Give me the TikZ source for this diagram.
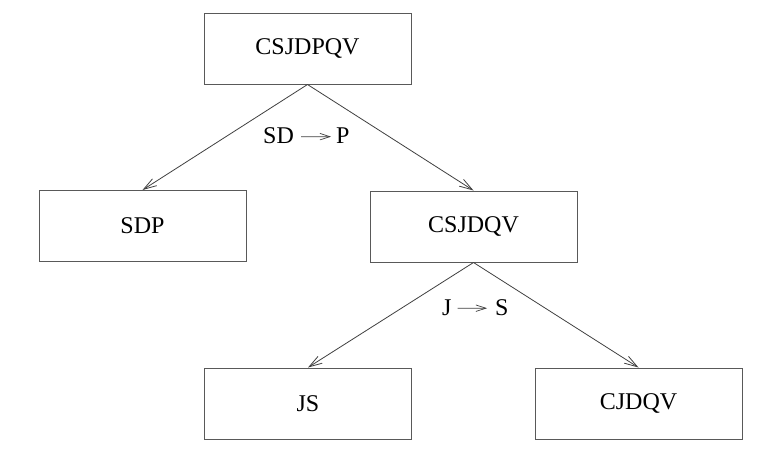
\documentclass[tikz,border=0pt]{standalone}
\usepackage{fontspec}
\setmainfont{Liberation Serif}
\newfontfamily\timesfont{Liberation Serif}
\usetikzlibrary{arrows.meta}
\begin{document}
\begin{tikzpicture}[x=1pt,y=-1pt,
  box/.style={draw=black!65,line width=1pt,minimum width=207pt,minimum height=71pt,inner sep=0pt,font=\timesfont\fontsize{24}{28}\selectfont},
  lbl/.style={inner sep=0pt,anchor=base west,font=\timesfont\fontsize{24}{28}\selectfont},
  edge/.style={draw=black!75,line width=0.8pt,-{Straight Barb[length=13pt,width=8pt,line width=0.8pt]}},
  ledge/.style={draw=black!75,line width=0.7pt,-{Straight Barb[length=10pt,width=6.5pt,line width=0.7pt]}}]
\useasboundingbox[fill=white] (0,0) rectangle (765,450);
\node[box] (top) at (307.5,48.5) {CSJDPQV};
\node[box] (sdp) at (142.5,226) {SDP};
\node[box] (mid) at (473.5,226.5) {CSJDQV};
\node[box] (js) at (308,403.5) {JS};
\node[box] (cj) at (638.5,403.5) {CJDQV};
\draw[edge] (top.south) -- (sdp.north);
\draw[edge] (top.south) -- (mid.north);
\draw[edge] (mid.south) -- (js.north);
\draw[edge] (mid.south) -- (cj.north);
\node[lbl] (sd) at (263,143) {SD};
\node[lbl] (p) at (336,143) {P};
\draw[ledge,shorten <=7pt,shorten >=5pt] ([yshift=-1.5pt]sd.east) -- ([yshift=-1.5pt]p.west);
\node[lbl] (j) at (442,315) {J};
\node[lbl] (s) at (495,315) {S};
\draw[ledge,shorten <=6pt,shorten >=8pt] ([yshift=-1pt]j.east) -- ([yshift=-1pt]s.west);
\end{tikzpicture}
\end{document}
